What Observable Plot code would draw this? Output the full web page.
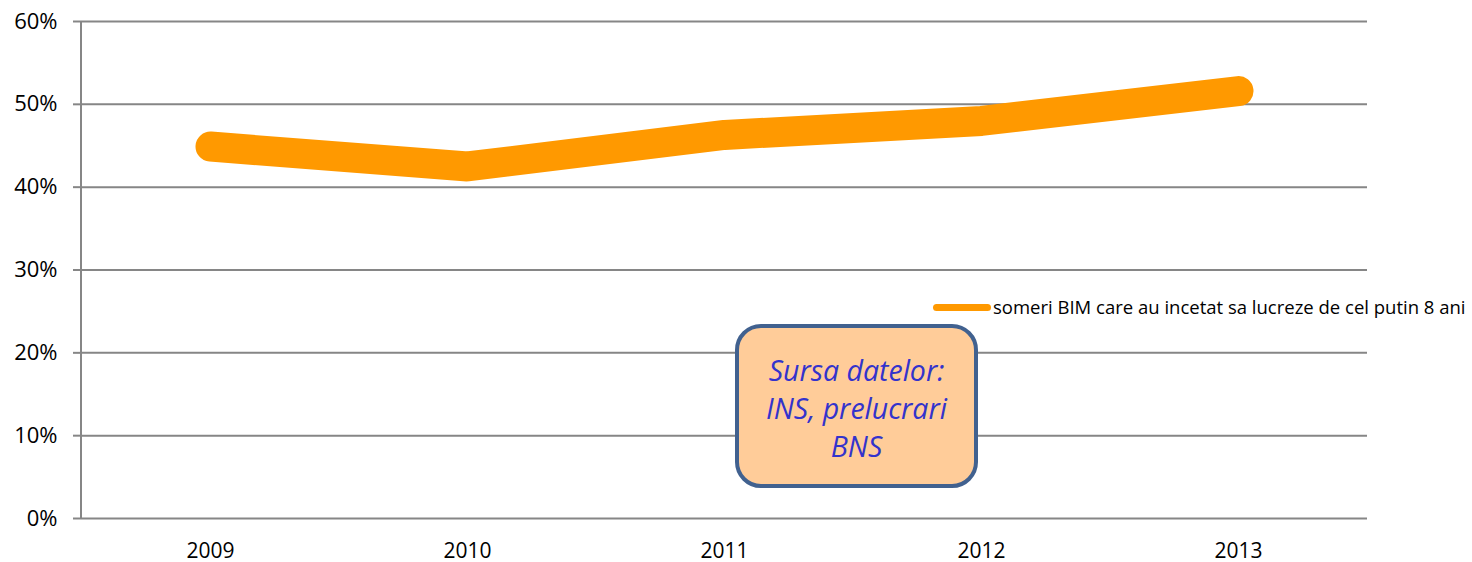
<!DOCTYPE html>
<html>
<head>
<meta charset="utf-8">
<script src="https://cdn.jsdelivr.net/npm/d3@7"></script>
<script src="https://cdn.jsdelivr.net/npm/@observablehq/plot@0.6"></script>
<style>
  html, body { margin: 0; padding: 0; background: #fff; }
  #wrap { position: relative; width: 1472px; height: 562px; font-family: "Open Sans", sans-serif; }
  #legend { position: absolute; left: 933px; top: 295px; display: flex; align-items: center; font-size: 18.5px; color: #000; white-space: nowrap; line-height: 24px; }
  #legend .sw { width: 58px; height: 7px; border-radius: 4px; background: #FF9900; margin-right: 2px; }
  #note { position: absolute; left: 735px; top: 324px; width: 243px; height: 164px; box-sizing: border-box;
          background: #FFCC99; border: 4px solid #41618F; border-radius: 26px;
          padding-top: 23px; text-align: center;
          font-style: italic; font-size: 28.5px; line-height: 38px; color: #3333CC; }
  #note div { display: block; white-space: nowrap; }
</style>
</head>
<body>
<div id="wrap"></div>
<script>
const years = ["2009", "2010", "2011", "2012", "2013"];
const values = [0.449, 0.425, 0.463, 0.480, 0.516];
const yTicks = [0, 0.1, 0.2, 0.3, 0.4, 0.5, 0.6];
const seriesName = "someri BIM care au incetat sa lucreze de cel putin 8 ani";
const noteLines = ["Sursa datelor:", "INS, prelucrari", "BNS"];

const data = years.map((y, i) => ({year: y, value: values[i]}));
const gridColor = "#868686";

const plot = Plot.plot({
  width: 1472,
  height: 562,
  marginLeft: 81,
  marginRight: 105,
  marginTop: 21,
  marginBottom: 44,
  style: {fontFamily: "'Open Sans', sans-serif", fontSize: "21px", color: "#000", background: "#fff", overflow: "visible"},
  x: {type: "point", domain: years, padding: 0.5, label: null},
  y: {domain: [0, 0.6], label: null},
  marks: [
    Plot.ruleY(yTicks, {stroke: gridColor, strokeWidth: 2}),
    Plot.axisY({ticks: yTicks, tickFormat: d => Math.round(d * 100) + "%", tickSize: 8, tickPadding: 16,
                stroke: gridColor, strokeWidth: 2, strokeOpacity: 1, fill: "#000", fontSize: 22, label: null}),
    Plot.axisX({tickSize: 0, tickPadding: 25, fill: "#000", fontSize: 21, label: null}),
    Plot.lineY(data, {x: "year", y: "value", stroke: "#FF9900", strokeWidth: 30,
                      strokeLinecap: "round", strokeLinejoin: "miter"})
  ]
});

const wrap = document.getElementById("wrap");
wrap.appendChild(plot);

// vertical axis line along the left edge of the frame
const ys = plot.scale("y");
const left = 81;
d3.select(plot).append("line")
  .attr("x1", left).attr("x2", left)
  .attr("y1", ys.range[0]).attr("y2", ys.range[1])
  .attr("stroke", gridColor).attr("stroke-width", 2);

// legend
const lg = document.createElement("div");
lg.id = "legend";
lg.innerHTML = `<div class="sw"></div><span></span>`;
lg.querySelector("span").textContent = seriesName;
wrap.appendChild(lg);

// source note
const note = document.createElement("div");
note.id = "note";
noteLines.forEach(t => {
  const d = document.createElement("div");
  d.textContent = t;
  note.appendChild(d);
});
wrap.appendChild(note);
</script>
</body>
</html>
